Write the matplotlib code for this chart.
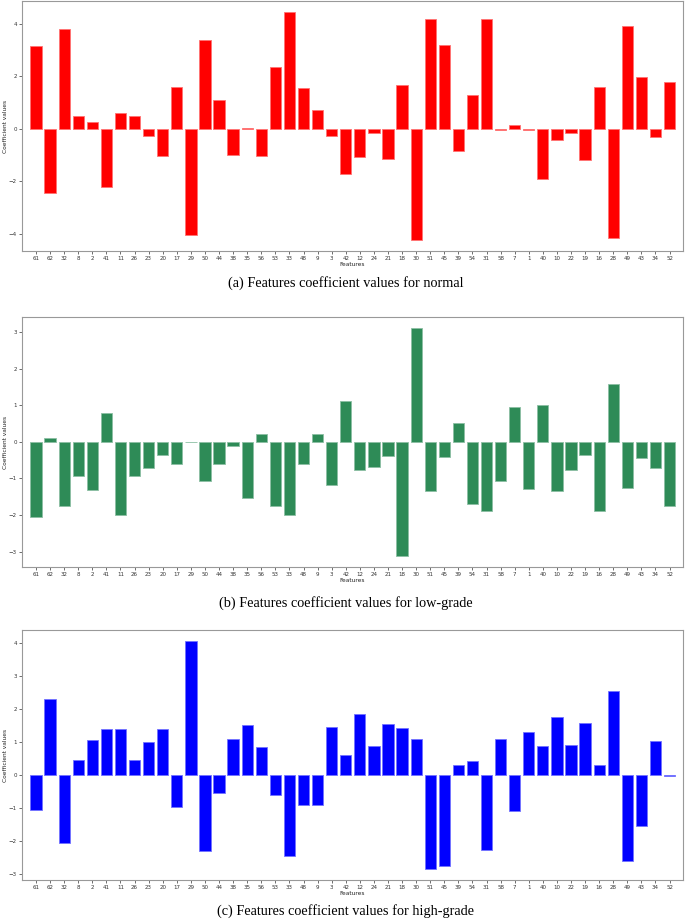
import numpy as np
import matplotlib.pyplot as plt
from matplotlib.colors import to_rgb

features = ["61", "62", "32", "8", "2", "41", "11", "26", "23", "20", "17", "29",
            "50", "44", "38", "35", "56", "53", "33", "48", "9", "3", "42", "12",
            "24", "21", "18", "30", "51", "45", "39", "54", "31", "58", "7", "1",
            "40", "10", "22", "19", "16", "28", "49", "43", "34", "52"]

normal = [3.13, -2.43, 3.81, 0.47, 0.25, -2.22, 0.58, 0.47, -0.29, -1.04, 1.58, -4.05,
          3.38, 1.11, -1.01, 0.02, -1.05, 2.35, 4.43, 1.53, 0.70, -0.27, -1.73, -1.08,
          -0.16, -1.15, 1.67, -4.22, 4.18, 3.18, -0.85, 1.27, 4.18, -0.05, 0.14, -0.04,
          -1.92, -0.42, -0.15, -1.20, 1.57, -4.16, 3.89, 1.97, -0.32, 1.77]

low_grade = [-2.05, 0.11, -1.75, -0.94, -1.32, 0.78, -2.00, -0.94, -0.72, -0.37, -0.60, -0.01,
             -1.06, -0.61, -0.12, -1.54, 0.20, -1.76, -1.99, -0.60, 0.20, -1.18, 1.12, -0.77,
             -0.70, -0.40, -3.11, 3.10, -1.35, -0.42, 0.52, -1.69, -1.90, -1.08, 0.94, -1.29,
             1.01, -1.35, -0.77, -0.37, -1.88, 1.57, -1.25, -0.45, -0.72, -1.75]

high_grade = [-1.07, 2.30, -2.07, 0.44, 1.06, 1.39, 1.40, 0.44, 0.98, 1.39, -0.99, 4.05,
              -2.31, -0.54, 1.10, 1.51, 0.83, -0.60, -2.46, -0.93, -0.92, 1.46, 0.59, 1.84,
              0.87, 1.54, 1.43, 1.09, -2.85, -2.77, 0.30, 0.41, -2.27, 1.10, -1.11, 1.31,
              0.88, 1.76, 0.91, 1.56, 0.31, 2.55, -2.63, -1.55, 1.01, -0.03]

panels = [
    (normal, "red", "(a) Features coefficient values for normal", 0.7275, 0.6925),
    (low_grade, "seagreen", "(b) Features coefficient values for low-grade", 0.3844, 0.3455),
    (high_grade, "blue", "(c) Features coefficient values for high-grade", 0.0445, 0.0105),
]

fig = plt.figure(figsize=(6.85, 9.21), dpi=100)
x = np.arange(len(features))

for vals, col, caption, bottom, cap_y in panels:
    # lighter edge, like the thin pale outline round each bar
    edge = [0.55 * c + 0.45 for c in to_rgb(col)]
    ax = fig.add_axes([0.032, bottom, 0.965, 0.2715])
    ax.bar(x, vals, width=0.8, color=col, edgecolor=edge, linewidth=0.6)
    ax.set_xticks(x)
    ax.set_xticklabels(features)
    ax.set_xlim(-1, 45.95)
    ax.tick_params(labelsize=4, length=2, width=0.5, pad=1.5, colors="#333333")
    ax.set_xlabel("Features", fontsize=4.2, labelpad=0.5, color="#222222")
    ax.set_ylabel("Coefficient values", fontsize=4.2, labelpad=1, color="#222222")
    for s in ax.spines.values():
        s.set_color("#999999")
        s.set_linewidth(0.8)
    fig.text(0.505, cap_y, caption, ha="center", va="center",
             fontsize=10.3, family="Liberation Serif")

fig.savefig("out.png", dpi=100)
